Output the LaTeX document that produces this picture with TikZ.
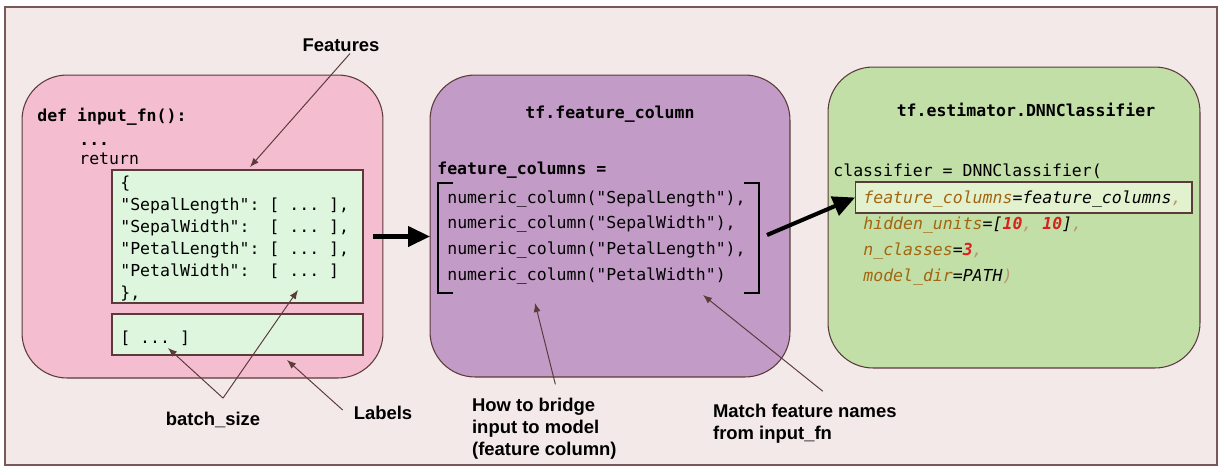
\documentclass[tikz,border=0pt]{standalone}
\usepackage{fontspec}
\setmainfont{Liberation Sans}
\setmonofont{DejaVu Sans Mono}
\usetikzlibrary{arrows.meta}

\definecolor{framebg}{HTML}{F3E9E9}
\definecolor{framedraw}{HTML}{7A5858}
\definecolor{edgebrown}{HTML}{5A3A3A}
\definecolor{inputpink}{HTML}{F5BDD0}
\definecolor{columnpurple}{HTML}{C39BC7}
\definecolor{estgreen}{HTML}{C3DFA8}
\definecolor{codegreen}{HTML}{DDF6DD}
\definecolor{hlgreen}{HTML}{E2F2CE}
\definecolor{argbrown}{HTML}{A3650F}
\definecolor{numred}{HTML}{D9201E}
\definecolor{punctfade}{HTML}{B8956F}

\newcommand{\threedots}{...}

\begin{document}
\begin{tikzpicture}[x=0.02cm,y=-0.02cm,
  panel/.style={draw=edgebrown,line width=0.6pt,rounded corners=0.9cm,inner sep=0pt,outer sep=0pt},
  box/.style={draw=edgebrown,line width=0.6pt,inner sep=0pt,outer sep=0pt},
  code/.style={anchor=west,inner sep=0pt,text height=6.9pt,text depth=0pt,font=\ttfamily\fontsize{9.4}{12}\selectfont},
  codeb/.style={code,font=\ttfamily\bfseries\fontsize{9.4}{12}\selectfont},
  codei/.style={code,font=\ttfamily\itshape\fontsize{9.4}{12}\selectfont},
  lbl/.style={font=\bfseries\fontsize{10.5}{12.5}\selectfont,align=left,inner sep=1pt},
  ptr/.style={-{Latex[length=0.18cm,width=0.14cm]},draw=edgebrown,line width=0.55pt},
  bigarrow/.style={-{Triangle[length=0.44cm,width=0.4cm]},line width=2.3pt}]

\pgfmathsetmacro{\dictstep}{22}
\pgfmathsetmacro{\colstep}{25.7}

\useasboundingbox (0,0) rectangle (1226,474);
% Outer frame:
\draw[fill=framebg,draw=framedraw,line width=0.8pt] (5,7) rectangle (1217,465);

% Panels:
\node[panel,fill=inputpink,minimum width=7.22cm,minimum height=6.06cm] (inpanel) at (202.5,226.5) {};
\node[panel,fill=columnpurple,minimum width=7.2cm,minimum height=6.04cm] (colpanel) at (610,226) {};
\node[panel,fill=estgreen,minimum width=7.44cm,minimum height=6.02cm] (estpanel) at (1014,217.5) {};

% input_fn code:
\node[codeb] (fndef) at (37,115) {def input\_fn():};
\node[codeb] (fndots) at (79,139) {\threedots};
\node[code] (fnret) at (79,158) {return};
\node[box,fill=codegreen,minimum width=5.02cm,minimum height=2.66cm] (featbox) at (237.5,236.5) {};
\node[box,fill=codegreen,minimum width=5.02cm,minimum height=0.82cm] (labelbox) at (237.5,334.5) {};
\foreach \ln [count=\i from 0] in {{\{},{"SepalLength": [ \threedots\ ],},{"SepalWidth":~ [ \threedots\ ],},{"PetalLength": [ \threedots\ ],},{"PetalWidth":~ [ \threedots\ ]},{\},}}
  \node[code] (dict\i) at (120,182+\dictstep*\i) {\ln};
\node[code] (labvals) at (120,337) {[ \threedots\ ]};

% feature_column code:
\node[codeb,anchor=center] (colhead) at (610,112) {tf.feature\_column};
\node[codeb] (colvar) at (437,168) {feature\_columns =};
\foreach \ln [count=\i from 0] in {{numeric\_column("SepalLength"),},{numeric\_column("SepalWidth"),},{numeric\_column("PetalLength"),},{numeric\_column("PetalWidth")}}
  \node[code] (num\i) at (447,197+\colstep*\i) {\ln};
% Brackets:
\draw[line width=1.1pt] (453,183) -- (438,183) -- (438,293) -- (453,293);
\draw[line width=1.1pt] (744,183) -- (759,183) -- (759,293) -- (744,293);

% DNNClassifier code:
\node[codeb,anchor=center] (esthead) at (1026,110) {tf.estimator.DNNClassifier};
\node[code] (clsline) at (833,170) {classifier = DNNClassifier(};
\node[box,fill=hlgreen,minimum width=6.74cm,minimum height=0.62cm] (hlbox) at (1023.5,197.5) {};
\node[codei] (arg1) at (863,197) {\textcolor{argbrown}{feature\_columns}=feature\_columns\textcolor{punctfade}{,}};
\node[codei] (arg2) at (863,223) {\textcolor{argbrown}{hidden\_units}=[\textcolor{numred}{\bfseries 10}\textcolor{punctfade}{,} \textcolor{numred}{\bfseries 10}]\textcolor{punctfade}{,}};
\node[codei] (arg3) at (863,249) {\textcolor{argbrown}{n\_classes}=\textcolor{numred}{\bfseries 3}\textcolor{punctfade}{,}};
\node[codei] (arg4) at (863,275) {\textcolor{argbrown}{model\_dir}=PATH\textcolor{punctfade}{)}};

% Labels:
\node[lbl] (featlbl) at (341,45) {Features};
\node[lbl] (bslbl) at (213,420) {batch\_size};
\node[lbl] (lablbl) at (383,413) {Labels};
\node[lbl,anchor=west] (bridgelbl) at (470,429) {How to bridge\\input to model\\(feature column)};
\node[lbl,anchor=west] (matchlbl) at (711,424) {Match feature names\\from input\_fn};

% Pointers:
\coordinate (feattip) at (250,167);
\coordinate (bstip1) at (168,348);
\coordinate (bstip2) at (298,290);
\coordinate (labtip) at (287,360);
\coordinate (bridgetip) at (535,303);
\coordinate (matchtip) at (703,295);
\coordinate (bsapex) at ([xshift=0.2cm,yshift=0.24cm]bslbl.north);
\draw[ptr] ([xshift=0.18cm]featlbl.south) -- (feattip);
\draw[ptr] (bsapex) -- (bstip1);
\draw[ptr] (bsapex) -- (bstip2);
\draw[ptr] ([xshift=-0.18cm,yshift=0.06cm]lablbl.west) -- (labtip);
\draw[ptr] ([xshift=0.22cm,yshift=0.24cm]bridgelbl.north) -- (bridgetip);
\draw[ptr] ([xshift=0.36cm,yshift=0.22cm]matchlbl.north) -- (matchtip);

% Big arrows:
\coordinate (colout) at (767,235);
\draw[bigarrow] ([xshift=0.2cm]featbox.east) -- (featbox.east -| colpanel.west);
\draw[bigarrow] (colout) -- (hlbox.west);

\end{tikzpicture}
\end{document}
